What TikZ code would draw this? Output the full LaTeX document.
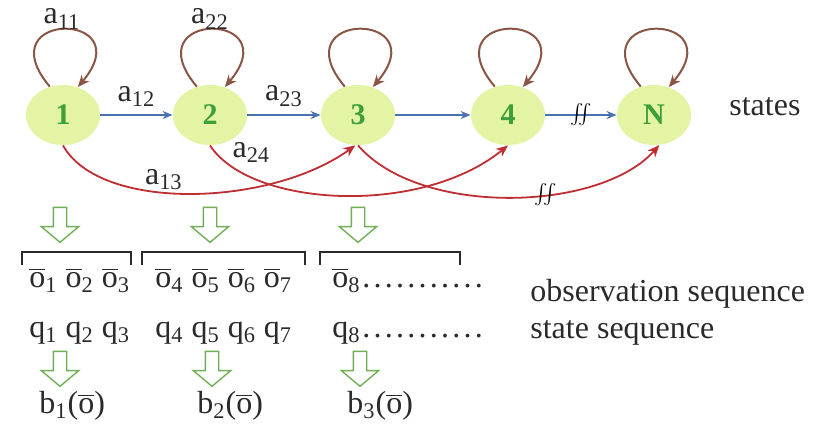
\documentclass[tikz,border=0pt]{standalone}
\usepackage{fontspec}
\setmainfont{Liberation Serif}
\usepackage{xcolor}
\usepackage{tikz}
\usetikzlibrary{positioning, arrows.meta, calc, shapes.geometric, shapes.arrows}
\definecolor{stategreen}{HTML}{E3F4A4}
\definecolor{digitgreen}{HTML}{3E9E3A}
\definecolor{loopbrown}{HTML}{8A5545}
\definecolor{flowblue}{HTML}{4A72AE}
\definecolor{jumpred}{HTML}{BE2E32}
\definecolor{hollowgreen}{HTML}{6FAE55}
\definecolor{inkgray}{HTML}{2A2A2A}

\newcommand{\obar}{$\overline{\mbox{o}}$}
\newcommand{\dotrow}{\hbox to 62pt{\xleaders\hbox to 5.6pt{\hss.\hss}\hfill}}

\tikzset{
  hmmstate/.style={ellipse, fill=stategreen, minimum width=37pt, minimum height=30pt,
    inner sep=0pt, font=\fontsize{15}{15}\selectfont\bfseries, text=digitgreen},
  selfloop/.style={draw=loopbrown, line width=1pt, -{Stealth[length=6pt,width=5pt]}},
  flow/.style={draw=flowblue, line width=0.7pt, -{Stealth[length=5pt,width=4pt]}},
  jump/.style={draw=jumpred, line width=0.9pt, -{Stealth[length=6pt,width=5pt]}},
  hollow/.style={single arrow, draw=hollowgreen, line width=0.7pt, inner sep=3pt,
    minimum height=17.5pt, single arrow head extend=6pt, single arrow tip angle=100, rotate=-90},
  bracketline/.style={draw=inkgray, line width=0.6pt},
  lbl/.style={font=\fontsize{16}{18}\selectfont, text=inkgray, inner sep=1pt},
  brk/.style={font=\fontsize{14}{14}\selectfont, inner sep=0pt},
}

\begin{document}
\begin{tikzpicture}[x=0.5pt, y=0.5pt]
  \useasboundingbox (0,0) rectangle (827,-429);

  % states
  \node[hmmstate] (s1) at (63,-115) {1};
  \node[hmmstate] (s2) at (210,-115) {2};
  \node[hmmstate] (s3) at (358,-115) {3};
  \node[hmmstate] (s4) at (508,-115) {4};
  \node[hmmstate] (sN) at (654,-115) {N};
  \node[lbl, anchor=base west] (states) at (727,-115) {states};

  \foreach \s in {s1,s2,s3,s4,sN}
    \draw[selfloop] (\s.115) .. controls +(130:50pt) and +(50:50pt) .. (\s.62);
  \node[lbl] (a11) at (62,-19) {a\textsubscript{11}};
  \node[lbl] (a22) at (210,-19) {a\textsubscript{22}};

  \draw[flow] (s1) -- node[lbl, above=3pt] (a12) {a\textsubscript{12}} (s2);
  \draw[flow] (s2) -- node[lbl, above=3pt] (a23) {a\textsubscript{23}} (s3);
  \draw[flow] (s3) -- (s4);
  \draw[flow] (s4) -- node[brk] (cut1) {$\int\!\!\int$} (sN);

  \draw[jump] (s1.south) .. controls (100,-212) and (270,-207)
    .. node[lbl, pos=0.42, above] (a13) {a\textsubscript{13}} (s3.265);
  \draw[jump] (s2.south) .. controls (250,-207) and (420,-217)
    .. node[lbl, pos=0.12, above right] (a24) {a\textsubscript{24}} (s4.270);
  \draw[jump] (s3.south) .. controls (420,-217) and (600,-212)
    .. node[brk, pos=0.6] (cut2) {$\int\!\!\int$} (sN.280);

  % sequences
  \foreach \x/\n in {60/1, 210/2, 358/3}
    \node[hollow] (obsdown\n) at (\x,-222) {};
  \draw[bracketline] (22,-265) -- (22,-252) -- (131,-252) -- (131,-265);
  \draw[bracketline] (142,-265) -- (142,-252) -- (305,-252) -- (305,-265);
  \draw[bracketline] (320,-265) -- (320,-252) -- (460,-252) -- (460,-265);

  \node[lbl, anchor=base west] (obs1) at (27,-287) {\obar\textsubscript{1} \obar\textsubscript{2} \obar\textsubscript{3}};
  \node[lbl, anchor=base west] (obs2) at (153,-287) {\obar\textsubscript{4} \obar\textsubscript{5} \obar\textsubscript{6} \obar\textsubscript{7}};
  \node[lbl, anchor=base west] (obs3) at (330,-287) {\obar\textsubscript{8}\dotrow};
  \node[lbl, anchor=base west] (obslabel) at (528,-301) {observation sequence};

  \node[lbl, anchor=base west] (seq1) at (27,-337) {q\textsubscript{1} q\textsubscript{2} q\textsubscript{3}};
  \node[lbl, anchor=base west] (seq2) at (153,-337) {q\textsubscript{4} q\textsubscript{5} q\textsubscript{6} q\textsubscript{7}};
  \node[lbl, anchor=base west] (seq3) at (330,-337) {q\textsubscript{8}\dotrow};
  \node[lbl, anchor=base west] (seqlabel) at (528,-338) {state sequence};

  \foreach \x/\n in {60/1, 212/2, 360/3}
    \node[hollow] (emitdown\n) at (\x,-366) {};
  \node[lbl, anchor=base west] (emit1) at (37,-413) {b\textsubscript{1}(\obar)};
  \node[lbl, anchor=base west] (emit2) at (195,-413) {b\textsubscript{2}(\obar)};
  \node[lbl, anchor=base west] (emit3) at (345,-413) {b\textsubscript{3}(\obar)};
\end{tikzpicture}
\end{document}
